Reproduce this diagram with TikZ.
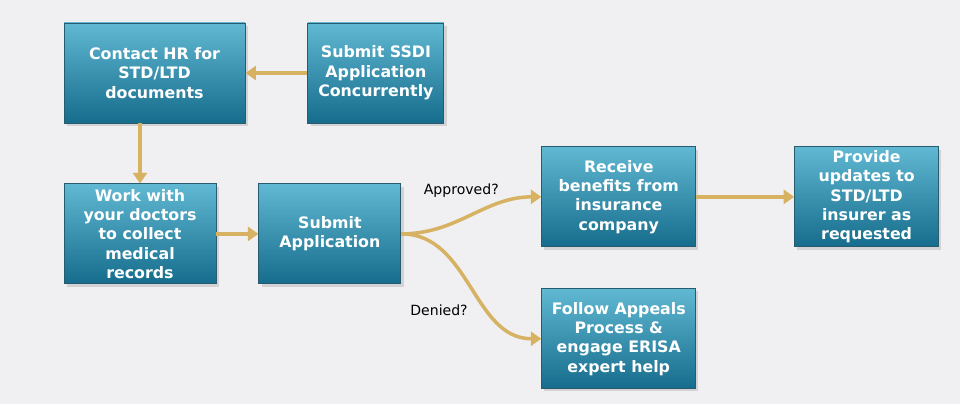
\documentclass[tikz,border=0pt]{standalone}
\usepackage{fontspec}
\setmainfont{DejaVu Sans}
\usepackage{tikz}
\usetikzlibrary{positioning}
\usetikzlibrary{arrows.meta}
\usetikzlibrary{shadows}
\definecolor{boxtop}{RGB}{96,184,210}
\definecolor{boxbot}{RGB}{22,108,140}
\definecolor{boxrim}{RGB}{40,90,112}
\definecolor{flow}{RGB}{214,178,98}
\definecolor{paper}{RGB}{240,240,242}
\tikzset{step box/.style={rectangle,top color=boxtop,bottom color=boxbot,draw=boxrim,line width=0.5pt,
    minimum height=2cm,inner sep=2pt,align=center,text=white,font=\bfseries\fontsize{9}{11}\selectfont,
    drop shadow={opacity=0.25,shadow xshift=1.5pt,shadow yshift=-1.5pt}},
  answer/.style={font=\fontsize{8}{10}\selectfont,text=black},}

\begin{document}
\begin{tikzpicture}[->,>={Triangle[length=6pt,width=8pt]},line width=2pt,flow]
    \fill[paper] (0,0) rectangle (19.2,8.08);
    \useasboundingbox (0,0) rectangle (19.2,8.08);

    \node[step box,minimum width=3.62cm] (hr) at (3.09,6.62) {Contact HR for\\STD/LTD\\documents};
    \node[step box,minimum width=2.72cm] (ssdi) [right = 1.24cm of hr] {Submit SSDI\\Application\\Concurrently};
    \node[step box,minimum width=3.04cm] (work) [below = 1.2cm of hr.south west,anchor=north west] {Work with\\your doctors\\to collect\\medical\\records};
    \node[step box,minimum width=2.84cm] (app) [right = 0.84cm of work] {Submit\\Application};
    \node[step box,minimum width=3.08cm] (rec) [right = 2.8cm of app,yshift=0.74cm] {Receive\\benefits from\\insurance\\company};
    \node[step box,minimum width=2.88cm] (prov) [right = 1.96cm of rec] {Provide\\updates to\\STD/LTD\\insurer as\\requested};
    \node[step box,minimum width=3.08cm] (appeal) [below = 0.82cm of rec] {Follow Appeals\\Process \&\\engage ERISA\\expert help};

    \path
    (ssdi) edge node {} (hr)
    (hr.south -| work.north) edge node {} (work.north)
    (work) edge node {} (app)
    (app.east) edge [out=0,in=180] node[answer,pos=0.42,above=0.3cm] {Approved?} (rec.west)
    	edge [out=0,in=180] node[answer,pos=0.5,below left=0.22cm and -0.08cm] {Denied?} (appeal.west)
    (rec) edge node {} (prov);
\end{tikzpicture}
\end{document}
